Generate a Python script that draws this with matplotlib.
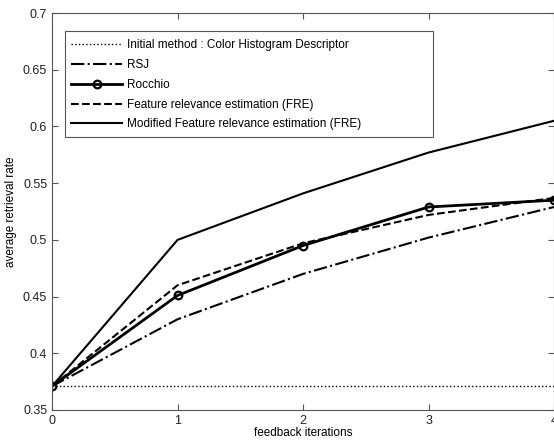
import numpy as np
import matplotlib.pyplot as plt
from matplotlib.patches import Rectangle

plt.rcParams['font.family'] = ['Liberation Sans', 'DejaVu Sans']

# feedback iterations
iterations = [0, 1, 2, 3, 4]

# average retrieval rate per method
initial = [0.371, 0.371, 0.371, 0.371, 0.371]
rsj = [0.371, 0.430, 0.470, 0.502, 0.529]
rocchio = [0.371, 0.451, 0.495, 0.529, 0.535]
fre = [0.371, 0.460, 0.497, 0.522, 0.537]
modified_fre = [0.371, 0.500, 0.541, 0.577, 0.605]

labels = ['Initial method : Color Histogram Descriptor', 'RSJ', 'Rocchio',
          'Feature relevance estimation (FRE)',
          'Modified Feature relevance estimation (FRE)']

fig = plt.figure(figsize=(5.54, 4.43), dpi=100)
ax = fig.add_axes([0.094, 0.0745, 0.906, 0.896])

ax.plot(iterations, initial, color='black', linestyle=':', linewidth=1.0, label=labels[0])
ax.plot(iterations, rsj, color='black', linestyle='-.', linewidth=1.5, label=labels[1])
ax.plot(iterations, rocchio, color='black', linestyle='-', linewidth=2.0, marker='o',
        markersize=5.5, markerfacecolor='none', markeredgewidth=1.6, label=labels[2])
ax.plot(iterations, fre, color='black', linestyle='--', linewidth=1.5, label=labels[3])
ax.plot(iterations, modified_fre, color='black', linestyle='-', linewidth=1.5, label=labels[4])

ax.set_xlim(0, 4)
ax.set_ylim(0.35, 0.7)
ax.set_xticks(iterations)
ax.set_yticks([0.35, 0.4, 0.45, 0.5, 0.55, 0.6, 0.65, 0.7])
ax.set_yticklabels(['0.35', '0.4', '0.45', '0.5', '0.55', '0.6', '0.65', '0.7'])
ax.tick_params(direction='in', top=True, right=True, labelsize=9, length=4,
               color='#555555', labelcolor='#222222')
for s in ax.spines.values():
    s.set_color('#555555')
    s.set_linewidth(0.8)

ax.set_xlabel('feedback iterations', fontsize=8.5, labelpad=0)
ax.set_ylabel('average retrieval rate', fontsize=8.5, labelpad=4)

# MATLAB-style legend: wide box with extra space on the right
ax.add_patch(Rectangle((0.026, 0.688), 0.733, 0.267, transform=ax.transAxes,
                       facecolor='white', edgecolor='#555555', linewidth=0.8, zorder=4))
leg = ax.legend(loc='upper left', bbox_to_anchor=(0.038, 0.934), fontsize=8.5,
                frameon=False, handlelength=4.3, borderpad=0, borderaxespad=0,
                labelspacing=0.66, handletextpad=0.45)
leg.set_zorder(5)

fig.savefig('out.png', dpi=100)
